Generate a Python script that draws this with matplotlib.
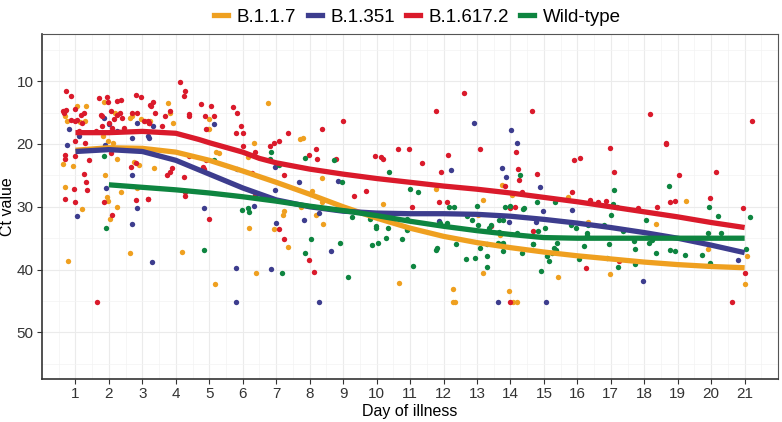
import matplotlib
matplotlib.use("Agg")
import matplotlib.pyplot as plt
from matplotlib.lines import Line2D

plt.rcParams['font.family'] = ['Liberation Sans', 'DejaVu Sans']

variants = ['B.1.1.7', 'B.1.351', 'B.1.617.2', 'Wild-type']
colors = {'B.1.1.7': '#EFA020', 'B.1.351': '#3D3D8E',
          'B.1.617.2': '#DA1A2B', 'Wild-type': '#0E8540'}

# individual samples (day of illness, Ct value)
b117_day = [1.06, 1.31, 0.69, 0.75, 1.14, 1.29, 1.84, 2.18, 2.63, 2.70, 2.95, 1.81, 1.98, 2.13, 2.25,
            0.64, 0.94, 2.75, 2.90, 1.88, 0.69, 2.83, 1.93, 1.98, 2.35, 2.25, 1.21, 2.02, 0.78, 2.62,
            4.18, 3.07, 3.22, 3.76, 3.84, 3.93, 4.98, 4.96, 5.00, 6.35, 6.74, 5.20, 5.28, 3.36, 6.17,
            6.19, 5.18, 6.39, 6.94, 7.20, 7.24, 7.34, 7.75, 8.19, 8.39, 8.36, 10.2, 10.67, 12.29,
            12.29, 12.34, 13.02, 13.19, 13.17, 13.69, 13.96, 14.09, 14.21, 15.43, 16.32, 16.97,
            18.36, 19.26, 19.90, 21.07, 21.00, 7.72, 7.81, 8.36, 8.06, 11.79, 14.06, 13.74, 15.73]
b117_ct = [13.9, 13.9, 15.5, 16.4, 16.5, 16.3, 13.4, 15.0, 15.8, 15.6, 16.0, 18.8, 19.5, 19.9, 22.4,
           23.2, 23.5, 22.9, 23.4, 25.0, 26.8, 27.0, 28.5, 29.1, 27.6, 30.0, 30.4, 32.0, 38.6, 37.4,
           37.2, 16.3, 16.3, 13.5, 15.1, 16.6, 16.1, 17.6, 17.6, 19.8, 13.5, 21.2, 21.5, 23.8, 22.1,
           33.3, 42.3, 40.5, 33.6, 31.3, 30.7, 36.4, 30.0, 31.3, 32.7, 29.2, 29.5, 42.2, 43.1,
           45.1, 45.1, 31.3, 40.6, 28.9, 34.5, 43.4, 45.1, 45.1, 41.1, 32.4, 40.7,
           32.7, 29.0, 36.7, 37.9, 42.3, 19.2, 19.1, 25.4, 27.5, 27.1, 28.1, 26.6, 28.4]

b1351_day = [0.81, 0.76, 1.11, 1.86, 2.0, 2.25, 2.68, 2.83, 3.18, 1.87, 2.68, 1.9, 1.04, 2.83, 2.68,
             3.3, 3.32, 3.19, 5.13, 5.82, 4.85, 6.34, 5.8, 5.8, 6.84, 6.99, 7.82, 8.28, 8.28, 8.63,
             11.87, 13.62, 13.96, 14.75, 14.96, 15.05, 15.85, 17.96, 20.8, 14.01, 14.21, 13.74,
             13.88, 14.88, 7.69, 8.84, 6.96, 6.97, 12.21, 12.9]
b1351_ct = [17.6, 20.1, 18.7, 15.9, 16.8, 18.0, 19.1, 16.7, 18.8, 20.1, 25.0, 27.0, 31.4, 30.2, 32.7,
            38.8, 17.2, 19.0, 16.8, 24.0, 30.2, 29.9, 39.8, 45.1, 39.9, 32.6, 32.1, 31.0, 45.1, 37.0,
            32.2, 45.1, 32.4, 32.4, 30.6, 45.1, 30.5, 41.8, 38.5, 17.8, 19.8, 23.9,
            25.2, 26.8, 26.1, 25.9, 23.6, 27.3, 24.1, 16.7]

b16172_day = [0.71, 0.88, 0.63, 0.67, 0.72, 0.98, 0.88, 1.0, 1.05, 1.16, 1.26, 1.21, 1.1, 0.98, 1.29,
              0.68, 0.68, 0.99, 1.26, 1.31, 1.34, 0.96, 0.69, 0.99, 1.71, 1.95, 1.97, 2.23, 2.35,
              2.8, 2.95, 3.25, 1.76, 1.8, 2.05, 2.15, 2.25, 2.32, 2.4, 2.7, 2.85, 3.05, 3.2, 1.6,
              1.78, 2.0, 2.1, 2.45, 2.05, 1.41, 2.65, 2.8, 2.8, 3.18, 2.1, 1.86, 1.63, 4.11, 4.28,
              4.23, 3.22, 3.31, 3.39, 3.69, 3.84, 4.4, 4.4, 4.76, 5.05, 4.86, 5.15, 4.9, 5.72, 5.82,
              5.94, 5.8, 6.02, 3.16, 3.19, 3.6, 4.38, 4.91, 3.9, 3.83, 3.75, 4.23, 4.81, 4.83, 6.0,
              6.27, 6.37, 4.28, 4.28, 5.0, 3.16, 6.37, 7.09, 7.24, 7.98, 8.14, 8.36, 7.35, 6.82,
              7.07, 6.94, 9.0, 7.22, 7.98, 8.21, 8.19, 8.79, 9.69, 9.33, 9.96, 10.12, 10.18, 10.65,
              10.97, 11.37, 11.94, 12.12, 11.05, 11.87, 12.09, 11.78, 12.62, 13.09, 13.42, 14.8,
              14.65, 18.16, 21.22, 14.16, 18.64, 16.99, 14.23, 14.26, 15.9, 16.08, 17.1, 13.84,
              14.36, 19.04, 20.15, 15.85, 19.97, 20.95, 18.76, 18.91, 18.38, 16.39, 16.62, 16.87,
              17.82, 18.66, 14.13, 13.99, 13.99, 14.68, 16.25, 17.25, 20.62, 21.02]
b16172_ct = [11.5, 12.3, 14.8, 15.0, 14.6, 14.4, 16.2, 16.4, 16.2, 15.4, 15.1, 16.7, 18.0, 19.6, 19.8,
             21.7, 22.4, 21.9, 24.8, 26.1, 27.4, 27.2, 28.7, 29.3, 12.7, 12.5, 13.3, 13.2, 13.0,
             12.2, 12.5, 13.9, 15.4, 15.5, 14.8, 16.0, 15.4, 15.1, 15.8, 15.0, 15.0, 16.4, 16.7, 17.9,
             17.1, 16.7, 17.5, 17.5, 21.5, 22.5, 23.6, 23.1, 28.9, 28.7, 31.3, 29.3, 45.1, 10.1, 11.5,
             12.3, 13.8, 13.3, 15.0, 15.6, 14.8, 15.3, 15.5, 13.6, 14.0, 15.6, 15.6, 17.6, 14.1, 15.0,
             17.1, 18.3, 18.2, 16.4, 16.7, 17.1, 21.9, 22.5, 23.9, 24.4, 24.9, 25.3, 23.6, 24.0, 20.3,
             24.6, 21.2, 27.7, 28.3, 32.0, 28.7, 28.1, 33.5, 35.1, 38.5, 40.3, 17.6, 18.2, 20.4,
             19.5, 19.8, 16.3, 24.9, 21.8, 22.4, 20.8, 22.4, 27.5, 28.3, 21.9, 22.1, 22.4, 20.8,
             20.8, 23.1, 24.5, 21.7, 30.0, 29.3, 29.2, 14.7, 11.9, 20.8, 33.0, 24.8,
             14.8, 15.2, 16.3, 21.3, 19.9, 20.7, 24.0, 25.7, 22.5, 22.2, 24.4, 26.7,
             27.6, 25.0, 24.5, 27.6, 28.6, 30.2, 29.2, 29.1, 30.0, 28.9, 29.3, 29.0,
             30.2, 20.0, 30.1, 30.2, 45.1, 33.9, 39.8, 38.7, 45.1, 40.5]

wild_day = [1.86, 1.9, 5.15, 5.97, 6.17, 6.19, 6.85, 6.8, 7.09, 7.87, 8.73, 8.96, 4.85, 7.17, 7.85,
            8.03, 8.91, 9.14, 9.28, 9.81, 9.99, 9.99, 9.87, 10.03, 10.27, 10.35, 10.75, 10.92, 11.1,
            10.38, 11.0, 11.25, 10.9, 10.9, 12.16, 12.32, 11.9, 12.09, 11.79, 11.82, 12.37, 12.67,
            12.84, 12.94, 12.99, 13.09, 13.02, 13.29, 13.29, 13.37, 13.62, 12.7, 13.41, 13.67,
            13.67, 13.29, 13.72, 13.84, 13.99, 13.78, 13.79, 13.79, 14.21, 14.34, 14.4, 14.66,
            14.78, 14.83, 14.91, 15.03, 15.08, 15.15, 15.23, 15.31, 15.36, 15.38, 15.33, 15.81,
            15.96, 16.05, 16.19, 16.29, 16.29, 16.32, 16.79, 16.89, 16.95, 17.02, 17.07, 17.19,
            17.22, 17.37, 17.7, 17.72, 17.72, 18.04, 18.14, 18.24, 18.36, 18.78, 18.91, 19.21,
            19.74, 19.93, 19.9, 19.97, 20.2, 20.28, 21.05, 21.15, 18.74, 14.28, 17.1, 14.38, 14.68]
wild_ct = [21.9, 33.3, 22.5, 30.5, 30.2, 30.8, 21.2, 22.4, 23.3, 22.2, 22.5, 26.1, 36.8, 40.5, 37.3,
           35.1, 35.7, 41.1, 31.6, 31.9, 33.0, 33.3, 36.1, 35.7, 34.9, 33.3, 35.2, 33.6, 39.5,
           24.4, 27.2, 27.7, 32.0, 33.7, 30.1, 30.0, 32.5, 32.5, 36.8, 36.5, 35.9, 38.3,
           32.1, 38.1, 29.9, 36.6, 32.9, 37.9, 39.6, 33.3, 35.8, 31.5, 32.9, 34.0,
           32.1, 35.9, 35.9, 30.0, 29.9, 35.8, 37.0, 32.1, 34.2, 37.4, 30.2, 35.9,
           29.3, 33.8, 40.2, 33.4, 37.9, 38.6, 37.3, 36.6, 36.8, 35.8, 29.3, 32.9,
           33.4, 38.3, 36.3, 34.2, 34.5, 32.9, 32.9, 38.2, 35.9, 31.3, 29.5, 30.0,
           39.6, 33.8, 35.5, 36.7, 39.1, 32.1, 35.8, 35.3, 37.4, 36.8, 37.1, 37.7,
           37.7, 30.0, 34.2, 39.0, 31.4, 34.2, 36.7, 31.7, 26.7, 25.0, 27.4, 30.4, 36.0]

# smoothed trend per variant
b117_fit_day = [1, 2, 3, 4, 5, 6, 7, 8, 9, 10, 11, 12, 13, 14, 15, 16, 17, 18, 19, 20, 21]
b117_fit_ct = [21.0, 20.6, 20.7, 21.3, 22.6, 24.3, 26.1, 28.0, 30.0, 31.8, 33.4, 34.7, 35.7,
               36.5, 37.2, 37.8, 38.3, 38.8, 39.2, 39.5, 39.7]
b1351_fit_day = [1, 2, 3, 4, 5, 6, 7, 8, 9, 10, 11, 12, 13, 14, 15, 16, 17, 18, 19, 20, 21]
b1351_fit_ct = [21.2, 20.9, 21.2, 22.6, 24.8, 27.0, 28.9, 30.0, 30.7, 31.0, 31.1, 31.1, 31.2,
                31.5, 32.0, 32.6, 33.3, 34.1, 35.0, 36.1, 37.3]
b16172_fit_day = [1, 2, 3, 4, 4.7, 5, 6, 6.5, 7, 8, 9, 10, 11, 12, 13, 14, 15, 16, 17, 18, 19, 20, 21]
b16172_fit_ct = [18.2, 18.2, 18.0, 18.3, 19.3, 19.8, 21.3, 22.3, 23.0, 24.0, 24.8, 25.5, 26.1,
                 26.7, 27.2, 27.8, 28.5, 29.2, 30.0, 30.8, 31.6, 32.5, 33.3]
wild_fit_day = [2, 3, 4, 5, 6, 7, 8, 9, 10, 11, 12, 13, 14, 15, 16, 17, 18, 19, 20, 21]
wild_fit_ct = [26.5, 26.9, 27.3, 27.8, 28.4, 29.1, 29.9, 30.6, 31.4, 32.3, 33.1, 33.8, 34.4,
               34.9, 35.0, 35.0, 35.0, 35.0, 35.0, 35.0]

points = {'B.1.1.7': (b117_day, b117_ct), 'B.1.351': (b1351_day, b1351_ct),
          'B.1.617.2': (b16172_day, b16172_ct), 'Wild-type': (wild_day, wild_ct)}
fits = {'B.1.1.7': (b117_fit_day, b117_fit_ct), 'B.1.351': (b1351_fit_day, b1351_fit_ct),
        'B.1.617.2': (b16172_fit_day, b16172_fit_ct), 'Wild-type': (wild_fit_day, wild_fit_ct)}

fig = plt.figure(figsize=(7.82, 4.22), dpi=100)
ax = fig.add_axes([0.0537, 0.102, 0.9413, 0.8174])

for v in variants:
    d, c = points[v]
    ax.scatter(d, c, s=15, color=colors[v], linewidths=0, zorder=3)
for v in variants:
    d, c = fits[v]
    ax.plot(d, c, color=colors[v], lw=3.8, solid_capstyle='butt', zorder=4)

ax.set_xlim(0.0, 22.0)
ax.set_ylim(57.4, 2.5)
ax.set_xticks([i for i in range(1, 22)])
ax.set_xticks([i + 0.5 for i in range(0, 22)], minor=True)
ax.set_yticks([10, 20, 30, 40, 50])
ax.set_yticks([5, 15, 25, 35, 45, 55], minor=True)
ax.grid(which='major', color='#EBEBEB', lw=0.8, zorder=0)
ax.grid(which='minor', color='#F3F3F3', lw=0.5, zorder=0)
ax.set_axisbelow(True)

for s in ['top', 'right']:
    ax.spines[s].set_color('#555555')
    ax.spines[s].set_linewidth(0.8)
for s in ['left', 'bottom']:
    ax.spines[s].set_color('#333333')
    ax.spines[s].set_linewidth(1.2)

ax.tick_params(which='major', length=3.5, width=0.8, color='#333333',
               labelsize=11, labelcolor='#333333', pad=2.5)
ax.tick_params(which='minor', length=0)
ax.set_xlabel('Day of illness', fontsize=11.5, labelpad=2)
ax.set_ylabel('Ct value', fontsize=11.5)
ax.yaxis.set_label_coords(-0.036, 0.5)

handles = [Line2D([0], [0], color=colors[v], lw=3.8) for v in variants]
fig.legend(handles, variants, loc='upper center', bbox_to_anchor=(0.534, 1.02), ncol=4,
           frameon=False, fontsize=13.5, handlelength=0.75, handletextpad=0.45,
           columnspacing=0.6)

fig.savefig('out.png', dpi=100)
